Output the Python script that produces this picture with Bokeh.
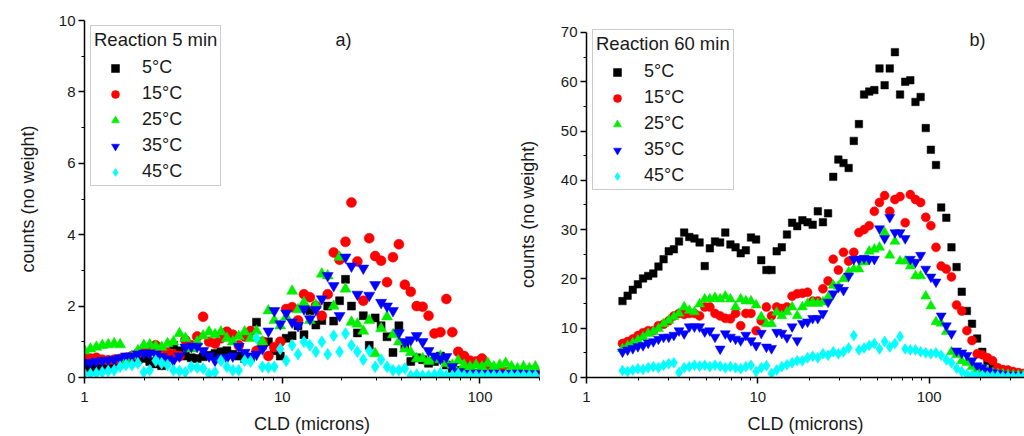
import math
from bokeh.plotting import figure
from bokeh.layouts import row
from bokeh.models import Legend, LegendItem, Label, FixedTicker, PrintfTickFormatter
from bokeh.embed import file_html
from bokeh.resources import INLINE

FONT = "Liberation Sans"

# FBRM chord-length channels (microns)
CHANNELS = [1.000, 1.072, 1.148, 1.230, 1.318, 1.413, 1.514, 1.622, 1.738, 1.862,
            1.995, 2.138, 2.291, 2.455, 2.630, 2.818, 3.020, 3.236, 3.467, 3.715,
            3.981, 4.266, 4.571, 4.898, 5.248, 5.623, 6.026, 6.457, 6.918, 7.413,
            7.943, 8.511, 9.120, 9.772, 10.47, 11.22, 12.02, 12.88, 13.80, 14.79,
            15.85, 16.98, 18.20, 19.50, 20.89, 22.39, 23.99, 25.70, 27.54, 29.51,
            31.62, 33.88, 36.31, 38.90, 41.69, 44.67, 47.86, 51.29, 54.95, 58.88,
            63.10, 67.61, 72.44, 77.62, 83.18, 89.13, 95.50, 102.3, 109.6, 117.5,
            125.9, 134.9, 144.5, 154.9, 166.0, 177.8, 190.5, 204.2, 218.8, 234.4,
            251.2, 269.2, 288.4, 309.0, 331.1, 354.8, 380.2]

LABELS = ["5°C", "15°C", "25°C", "35°C", "45°C"]

# ---- panel a) Reaction 5 min ----
x_a = CHANNELS[0:77]
a_5 = [0.25, 0.27, 0.28, 0.30, 0.32, 0.35, 0.38, 0.42, 0.45, 0.50,
       0.53, 0.45, 0.38, 0.33, 0.60, 0.90, 0.75, 0.60, 0.55, 0.53,
       0.58, 0.62, 0.67, 0.72, 0.75, 0.65, 0.60, 0.53, 0.55, 1.55,
       0.90, 1.00, 0.75, 0.60, 1.10, 1.17, 1.45, 1.20, 1.87, 1.47,
       1.60, 2.00, 1.58, 2.15, 2.75, 2.00, 1.25, 1.73, 0.90, 1.67,
       1.45, 1.14, 0.70, 1.45, 0.90, 0.45, 0.55, 0.50, 0.40, 0.45,
       0.60, 0.35, 0.25, 0.20, 0.18, 0.15, 0.12, 0.10, 0.10, 0.08,
       0.08, 0.06, 0.05, 0.05, 0.05, 0.05, 0.05]
a_15 = [0.53, 0.53, 0.55, 0.50, 0.48, 0.50, 0.52, 0.55, 0.60, 0.68,
        0.75, 0.82, 0.90, 0.75, 0.70, 0.65, 0.60, 1.05, 0.90, 1.15,
        1.70, 1.00, 0.95, 1.10, 1.28, 1.20, 0.90, 1.15, 1.30, 0.75,
        1.00, 0.60, 0.85, 1.00, 1.92, 1.97, 1.60, 2.33, 2.25, 2.00,
        1.73, 2.33, 3.50, 3.30, 3.80, 4.90, 3.25, 2.15, 3.90, 3.40,
        3.27, 2.67, 3.37, 3.73, 2.60, 2.40, 2.00, 1.98, 1.73, 1.23,
        1.27, 2.20, 1.27, 0.72, 0.60, 0.47, 0.45, 0.53, 0.30, 0.20,
        0.25, 0.15, 0.20, 0.15, 0.15, 0.20, 0.15]
a_25 = [0.75, 0.80, 0.85, 0.90, 0.92, 0.95, 0.92, 0.47, 0.60, 0.75,
        0.90, 0.92, 0.88, 0.85, 0.95, 1.00, 1.23, 1.10, 0.80, 1.00,
        1.17, 1.28, 1.20, 1.28, 1.10, 1.00, 1.15, 1.28, 1.10, 1.30,
        1.00, 1.87, 1.60, 1.45, 1.70, 2.42, 1.90, 2.10, 1.60, 2.03,
        2.90, 2.85, 2.00, 3.37, 2.48, 1.55, 1.50, 1.30, 1.60, 0.67,
        1.37, 1.70, 1.20, 1.00, 0.80, 0.70, 0.53, 0.53, 0.45, 0.50,
        0.60, 0.40, 0.35, 0.47, 0.35, 0.30, 0.35, 0.30, 0.40, 0.30,
        0.35, 0.40, 0.30, 0.25, 0.30, 0.25, 0.30]
a_35 = [0.40, 0.42, 0.45, 0.47, 0.48, 0.50, 0.55, 0.60, 0.60, 0.65,
        0.68, 0.68, 0.65, 0.58, 0.52, 0.48, 0.60, 0.85, 0.87, 0.87,
        0.75, 0.60, 0.48, 0.55, 0.55, 0.60, 0.87, 0.70, 0.60, 0.65,
        0.80, 1.30, 1.87, 1.50, 1.80, 1.55, 1.45, 1.92, 1.64, 1.90,
        2.20, 2.85, 2.57, 1.73, 3.37, 3.12, 2.33, 3.06, 2.30, 2.60,
        2.10, 2.00, 1.87, 1.25, 1.00, 1.05, 1.17, 1.00, 0.75, 0.60,
        0.53, 0.58, 0.30, 0.15, 0.10, 0.10, 0.12, 0.10, 0.10, 0.12,
        0.10, 0.10, 0.10, 0.12, 0.10, 0.10, 0.10]
a_45 = [0.10, 0.10, 0.12, 0.15, 0.18, 0.20, 0.30, 0.35, 0.35, 0.40,
        0.15, 0.20, 0.47, 0.40, 0.35, 0.20, 0.18, 0.15, 0.30, 0.28,
        0.25, 0.10, 0.15, 0.47, 0.30, 0.20, 0.20, 0.47, 0.45, 1.10,
        0.30, 0.28, 0.30, 0.80, 0.47, 0.90, 0.65, 1.00, 0.90, 0.72,
        1.00, 0.65, 1.17, 0.72, 1.23, 0.90, 0.72, 0.50, 0.75, 0.30,
        0.50, 0.30, 0.20, 0.20, 0.25, 0.05, 0.08, 0.05, 0.05, 0.08,
        0.12, 0.05, 0.05, 0.10, 0.05, 0.05, 0.05, 0.05, 0.05, 0.05,
        0.05, 0.05, 0.05, 0.05, 0.05, 0.05, 0.05]

# ---- panel b) Reaction 60 min ----
x_b = CHANNELS[7:87]
b_5 = [15.5, 16.6, 17.8, 18.9, 20.1, 20.6, 21.1, 22.5, 24.0, 25.6,
       26.0, 27.6, 29.4, 28.5, 28.2, 27.4, 22.6, 26.2, 27.6, 27.4,
       29.4, 27.0, 26.4, 25.2, 25.8, 28.4, 28.0, 23.8, 21.8, 21.8,
       25.6, 26.4, 29.0, 31.4, 30.7, 31.9, 31.5, 31.0, 33.7, 31.5,
       33.3, 40.7, 44.2, 43.5, 42.5, 48.0, 51.4, 57.4, 58.0, 58.3,
       62.7, 59.3, 62.7, 66.0, 57.4, 60.0, 60.3, 55.9, 56.9, 50.6,
       46.2, 43.1, 34.5, 32.4, 26.4, 22.4, 17.4, 13.5, 10.9, 7.9,
       5.2, 3.4, 2.4, 1.4, 1.0, 0.8, 0.6, 0.5, 0.4, 0.3]
b_15 = [6.9, 7.3, 7.8, 8.5, 9.1, 9.5, 9.5, 10.5, 10.8, 11.5,
        12.5, 13.0, 12.8, 13.0, 13.0, 12.5, 14.3, 14.3, 13.0, 12.5,
        12.0, 11.9, 13.0, 10.5, 13.0, 13.0, 9.5, 11.5, 14.3, 12.5,
        14.3, 14.0, 14.3, 16.5, 17.0, 17.1, 17.3, 15.5, 15.5, 18.0,
        19.6, 24.0, 21.8, 25.4, 23.6, 25.4, 29.4, 30.0, 30.8, 33.7,
        35.5, 36.9, 33.7, 36.1, 36.7, 31.4, 37.1, 36.1, 35.5, 32.5,
        30.8, 26.4, 22.6, 22.0, 20.4, 14.7, 13.5, 9.5, 7.5, 4.8,
        4.6, 4.0, 3.4, 2.0, 1.6, 1.5, 1.2, 1.0, 0.8, 0.6]
b_25 = [5.8, 6.4, 7.0, 7.6, 8.2, 8.9, 9.3, 9.9, 10.9, 11.6,
        12.3, 13.0, 14.3, 13.6, 13.3, 14.9, 15.9, 15.9, 16.2, 15.9,
        16.5, 15.9, 14.3, 15.9, 15.5, 15.5, 14.7, 12.3, 10.9, 10.9,
        13.2, 12.5, 13.3, 14.3, 12.5, 14.3, 15.0, 15.3, 15.0, 15.3,
        16.3, 18.7, 18.5, 20.0, 21.4, 22.0, 22.0, 23.4, 25.6, 26.0,
        26.4, 29.4, 24.8, 27.6, 23.6, 23.6, 22.6, 20.6, 20.6, 16.5,
        14.5, 11.3, 11.0, 9.3, 5.2, 4.6, 3.4, 3.0, 2.2, 1.6,
        1.6, 1.2, 1.0, 0.8, 0.7, 0.6, 0.5, 0.5, 0.4, 0.4]
b_35 = [5.2, 5.6, 5.9, 6.3, 6.5, 7.0, 7.3, 7.8, 8.2, 8.2,
        8.6, 9.5, 8.9, 10.3, 10.3, 10.3, 9.3, 9.5, 8.2, 5.8,
        8.9, 8.2, 7.8, 7.5, 8.6, 7.5, 6.5, 9.0, 6.2, 5.9,
        9.2, 9.0, 8.1, 10.3, 7.5, 11.0, 11.3, 12.0, 12.0, 13.0,
        15.3, 17.0, 18.3, 17.7, 20.6, 24.0, 24.0, 24.2, 24.0, 24.0,
        30.2, 28.2, 32.5, 29.4, 29.4, 28.2, 24.0, 23.4, 24.8, 22.0,
        20.4, 19.4, 12.5, 10.5, 8.9, 5.4, 5.0, 4.5, 3.4, 2.4,
        2.0, 1.4, 1.0, 0.8, 0.6, 0.5, 0.5, 0.4, 0.4, 0.3]
b_45 = [1.4, 1.2, 1.5, 1.8, 1.6, 2.0, 2.2, 2.0, 2.5, 2.8,
        3.0, 1.0, 2.0, 2.2, 2.5, 2.3, 2.5, 2.2, 2.5, 2.3,
        2.0, 2.2, 2.0, 1.8, 2.2, 2.5, 1.2, 2.0, 2.4, 0.8,
        1.5, 2.2, 2.6, 3.0, 3.4, 3.4, 4.0, 4.3, 4.0, 4.8,
        4.5, 5.2, 4.8, 5.2, 6.0, 8.5, 5.6, 6.0, 6.5, 6.9,
        5.8, 7.3, 6.2, 6.9, 8.3, 5.8, 5.6, 5.6, 5.2, 5.0,
        4.8, 5.0, 4.5, 3.6, 3.0, 1.9, 1.2, 0.6, 0.5, 0.4,
        0.4, 0.3, 0.3, 0.3, 0.2, 0.2, 0.2, 0.2, 0.2, 0.2]

X_MAJOR = [1, 10, 100]
X_MINOR = [2, 3, 4, 5, 6, 7, 8, 9, 20, 30, 40, 50, 60, 70, 80, 90, 200, 300]

MARKERS = ["square", "circle", "triangle", "inverted_triangle", "diamond"]
COLORS = ["#000000", "#ff0000", "#00ee00", "#0000ff", "#00ffff"]
SIZES_A = [8, 10, 11, 11, 12]
SIZES_B = [7.5, 9, 10, 10, 11]


def style_axes(p, ymajor, yminor):
    p.grid.visible = False
    p.outline_line_color = None
    p.background_fill_color = "white"
    p.border_fill_color = "white"
    p.xaxis.ticker = FixedTicker(ticks=X_MAJOR, minor_ticks=X_MINOR)
    p.xaxis.formatter = PrintfTickFormatter(format="%d")
    p.yaxis.ticker = FixedTicker(ticks=ymajor, minor_ticks=yminor)
    for ax in (p.xaxis[0], p.yaxis[0]):
        ax.axis_line_width = 1.5
        ax.axis_line_color = "#000000"
        ax.major_tick_line_width = 1.5
        ax.minor_tick_line_width = 1
        ax.major_tick_in = 0
        ax.major_tick_out = 6
        ax.minor_tick_in = 0
        ax.minor_tick_out = 3
        ax.major_label_standoff = 3
        ax.major_label_text_font = FONT
        ax.major_label_text_font_size = "15px"
        ax.major_label_text_color = "#1a1a1a"
        ax.axis_label_text_font = FONT
        ax.axis_label_text_font_size = "18px"
        ax.axis_label_text_font_style = "normal"
        ax.axis_label_text_color = "#1a1a1a"
    p.xaxis.axis_label = "CLD (microns)"
    p.xaxis.major_label_standoff = 8
    p.xaxis.axis_label_standoff = 9


def add_series(p, xs, series, sizes):
    rends = []
    for ys, m, c, s in zip(series, MARKERS, COLORS, sizes):
        r = p.scatter(xs, ys, marker=m, size=s,
                      fill_color=c, line_color=c, line_width=0.5)
        rends.append(r)
    return rends


def add_legend(p, rends, title, loc):
    items = [LegendItem(label=l, renderers=[r]) for l, r in zip(LABELS, rends)]
    lg = Legend(items=items, title=title, location=loc)
    lg.title_text_font = FONT
    lg.title_text_font_size = "18.5px"
    lg.title_text_font_style = "normal"
    lg.title_text_color = "#1a1a1a"
    lg.title_standoff = 6
    lg.label_text_font = FONT
    lg.label_text_font_size = "18px"
    lg.label_text_color = "#1a1a1a"
    lg.glyph_width = 42
    lg.glyph_height = 20
    lg.label_height = 20
    lg.label_standoff = 6
    lg.spacing = 5
    lg.padding = 3
    lg.margin = 0
    lg.border_line_color = "#999999"
    lg.border_line_width = 1
    lg.background_fill_color = "white"
    lg.background_fill_alpha = 1.0
    p.add_layout(lg)


# ---------- left figure ----------
p1 = figure(width=545, height=436, x_axis_type="log", x_range=(1, 200), y_range=(0, 10),
            output_backend="svg", toolbar_location=None,
            min_border_left=84, min_border_right=6, min_border_top=20, min_border_bottom=57)
style_axes(p1, [0, 2, 4, 6, 8, 10], [1, 3, 5, 7, 9])
p1.yaxis.axis_label = "counts (no weight)"
p1.yaxis.axis_label_standoff = 18
r1 = add_series(p1, x_a, [a_5, a_15, a_25, a_35, a_45], SIZES_A)
add_legend(p1, r1, "Reaction 5 min", (6, 191))
p1.add_layout(Label(x=20.4, y=9.44, text="a)", text_font=FONT, text_font_size="18px",
                    text_align="center", text_baseline="middle", text_color="#1a1a1a"))
# y-axis title of the right panel (drawn here so it sits at its original place)
p1.add_layout(Label(x=174.9, y=4.57, text="counts (no weight)", angle=math.pi / 2,
                    text_font=FONT, text_font_size="18px", text_align="center",
                    text_baseline="middle", text_color="#1a1a1a"))

# ---------- right figure ----------
p2 = figure(width=479, height=436, x_axis_type="log", x_range=(1, 360), y_range=(0, 72.42),
            output_backend="svg", toolbar_location=None,
            min_border_left=41, min_border_right=0, min_border_top=20, min_border_bottom=57)
style_axes(p2, [0, 10, 20, 30, 40, 50, 60, 70], [5, 15, 25, 35, 45, 55, 65])
p2.yaxis.bounds = (0, 70)
r2 = add_series(p2, x_b, [b_5, b_15, b_25, b_35, b_45], SIZES_B)
add_legend(p2, r2, "Reaction 60 min", (6, 187))
p2.add_layout(Label(x=191.7, y=68.4, text="b)", text_font=FONT, text_font_size="18px",
                    text_align="center", text_baseline="middle", text_color="#1a1a1a"))

layout = row(p1, p2)
open("out.html", "w").write(file_html(layout, INLINE))
